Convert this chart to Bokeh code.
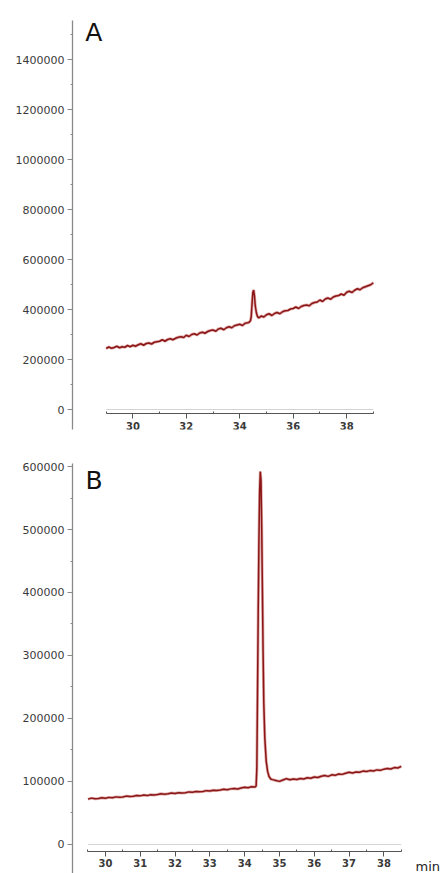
from bokeh.plotting import figure
from bokeh.models import FixedTicker, LinearAxis, Label, Range1d
from bokeh.layouts import column
from bokeh.embed import file_html
from bokeh.resources import INLINE

# ---------------- data ----------------
# Panel A: retention time (min) and intensity
time_a = [29.0, 29.1, 29.2, 29.3, 29.4, 29.5, 29.6, 29.7, 29.8, 29.9,
          30.0, 30.1, 30.2, 30.3, 30.4, 30.5, 30.6, 30.7, 30.8, 30.9,
          31.0, 31.1, 31.2, 31.3, 31.4, 31.5, 31.6, 31.7, 31.8, 31.9,
          32.0, 32.1, 32.2, 32.3, 32.4, 32.5, 32.6, 32.7, 32.8, 32.9,
          33.0, 33.1, 33.2, 33.3, 33.4, 33.5, 33.6, 33.7, 33.8, 33.9,
          34.0, 34.1, 34.2, 34.3, 34.35, 34.40, 34.43, 34.46, 34.49, 34.52,
          34.55, 34.58, 34.62, 34.66, 34.70, 34.75, 34.80, 34.9,
          35.0, 35.1, 35.2, 35.3, 35.4, 35.5, 35.6, 35.7, 35.8, 35.9,
          36.0, 36.1, 36.2, 36.3, 36.4, 36.5, 36.6, 36.7, 36.8, 36.9,
          37.0, 37.1, 37.2, 37.3, 37.4, 37.5, 37.6, 37.7, 37.8, 37.9,
          38.0, 38.1, 38.2, 38.3, 38.4, 38.5, 38.6, 38.7, 38.8, 38.9, 39.0]
intensity_a = [244000, 250000, 245000, 248000, 253000, 247000, 251000, 249000, 256000, 251000,
               257000, 253000, 259000, 263000, 257000, 264000, 266000, 262000, 269000, 271000,
               273000, 279000, 273000, 280000, 283000, 279000, 285000, 289000, 291000, 288000,
               297000, 292000, 300000, 303000, 298000, 306000, 309000, 305000, 312000, 316000,
               318000, 313000, 322000, 325000, 319000, 327000, 331000, 327000, 335000, 338000,
               341000, 336000, 345000, 347000, 349000, 355000, 372000, 425000, 468000, 478000,
               455000, 415000, 388000, 373000, 367000, 369000, 374000, 370000,
               379000, 383000, 376000, 384000, 388000, 383000, 391000, 395000, 396000, 402000,
               404000, 410000, 404000, 412000, 416000, 418000, 415000, 424000, 428000, 430000,
               438000, 432000, 442000, 446000, 441000, 450000, 454000, 456000, 462000, 457000,
               469000, 473000, 468000, 477000, 483000, 479000, 487000, 491000, 495000, 499000, 507000]

# Panel B
time_b = [29.5, 29.6, 29.7, 29.8, 29.9, 30.0, 30.1, 30.2, 30.3, 30.4,
          30.5, 30.6, 30.7, 30.8, 30.9, 31.0, 31.1, 31.2, 31.3, 31.4,
          31.5, 31.6, 31.7, 31.8, 31.9, 32.0, 32.1, 32.2, 32.3, 32.4,
          32.5, 32.6, 32.7, 32.8, 32.9, 33.0, 33.1, 33.2, 33.3, 33.4,
          33.5, 33.6, 33.7, 33.8, 33.9, 34.0, 34.1, 34.2, 34.3, 34.33,
          34.35, 34.37, 34.39, 34.41, 34.43, 34.45, 34.47, 34.49, 34.51, 34.53,
          34.55, 34.58, 34.62, 34.66, 34.70, 34.75, 34.8, 34.9,
          35.0, 35.1, 35.2, 35.3, 35.4, 35.5, 35.6, 35.7, 35.8, 35.9,
          36.0, 36.1, 36.2, 36.3, 36.4, 36.5, 36.6, 36.7, 36.8, 36.9,
          37.0, 37.1, 37.2, 37.3, 37.4, 37.5, 37.6, 37.7, 37.8, 37.9,
          38.0, 38.1, 38.2, 38.3, 38.4, 38.5]
intensity_b = [72000, 73600, 72700, 73100, 74300, 73500, 74800, 74100, 75600, 74900,
               75400, 76800, 76100, 76600, 77900, 77200, 78400, 77600, 79100, 78700,
               79300, 80600, 79800, 80400, 81700, 80900, 82300, 81600, 82200, 83500,
               82800, 84200, 83600, 84100, 85500, 84800, 86200, 85600, 86400, 87700,
               86900, 88300, 88900, 88100, 89600, 90900, 90200, 91800, 91300, 93000,
               120000, 240000, 370000, 480000, 560000, 592000, 578000, 505000, 405000, 305000,
               225000, 168000, 132000, 116000, 108000, 104000, 103000, 101500,
               100200, 102400, 104500, 102800, 103900, 103200, 104800, 104100, 106000, 105200,
               107100, 106400, 108300, 109500, 108100, 110600, 109800, 112000, 111300, 113100,
               114600, 113400, 115200, 114700, 116500, 115800, 117300, 116600, 118400, 117700,
               119600, 120800, 119900, 122100, 121500, 124000]

ticks_a_y = [0, 200000, 400000, 600000, 800000, 1000000, 1200000, 1400000]
minor_a_y = [100000, 300000, 500000, 700000, 900000, 1100000, 1300000, 1500000]
ticks_a_x = [30, 32, 34, 36, 38]
minor_a_x = [29, 31, 33, 35, 37, 39]

ticks_b_y = [0, 100000, 200000, 300000, 400000, 500000, 600000]
minor_b_y = [50000, 150000, 250000, 350000, 450000, 550000]
ticks_b_x = [30, 31, 32, 33, 34, 35, 36, 37, 38]
minor_b_x = [29.5, 30.5, 31.5, 32.5, 33.5, 34.5, 35.5, 36.5, 37.5, 38.5]

LINE_DARK = "#8a1616"
LINE_SOFT = "#c86a6a"
AXIS_Y = "#8a8a8a"
AXIS_X = "#555555"
LABEL_C = "#3a3a3a"
FONT = "DejaVu Sans"


def style_y(ax, ticks, minor):
    ax.ticker = FixedTicker(ticks=ticks, minor_ticks=minor)
    ax.axis_line_color = AXIS_Y
    ax.axis_line_width = 1.3
    ax.major_tick_line_color = AXIS_Y
    ax.minor_tick_line_color = AXIS_Y
    ax.major_tick_out = 5
    ax.major_tick_in = 0
    ax.minor_tick_out = 2
    ax.minor_tick_in = 0
    ax.major_label_standoff = 3
    ax.major_label_text_font = FONT
    ax.major_label_text_font_size = "11px"
    ax.major_label_text_color = LABEL_C
    ax.formatter.use_scientific = False


def style_x(ax, ticks, minor):
    ax.ticker = FixedTicker(ticks=ticks, minor_ticks=minor)
    ax.axis_line_color = AXIS_X
    ax.axis_line_width = 1.2
    ax.major_tick_line_color = AXIS_X
    ax.minor_tick_line_color = AXIS_X
    ax.major_tick_out = 5
    ax.major_tick_in = 0
    ax.minor_tick_out = 0
    ax.minor_tick_in = 2
    ax.major_label_standoff = 3
    ax.major_label_text_font = FONT
    ax.major_label_text_font_size = "10px"
    ax.major_label_text_font_style = "bold"
    ax.major_label_text_color = LABEL_C


# ---------------- panel A ----------------
pA = figure(width=445, height=448, output_backend="svg", toolbar_location=None,
            x_range=Range1d(27.74, 41.7), y_range=Range1d(-80000, 1556000),
            min_border_left=68, min_border_right=0, min_border_top=20, min_border_bottom=19,
            x_axis_location=None, y_axis_location=None)
pA.grid.visible = False
pA.outline_line_color = None

yA = LinearAxis()
style_y(yA, ticks_a_y, minor_a_y)
pA.add_layout(yA, "left")
xA = LinearAxis(fixed_location=-16000, bounds=(min(time_a), max(time_a)))
style_x(xA, ticks_a_x, minor_a_x)
pA.add_layout(xA, "below")

pA.line([min(time_a), max(time_a)], [0, 0], line_color="#d4d4d4", line_width=1.2)
pA.line(time_a, intensity_a, line_color=LINE_SOFT, line_width=3.0, line_alpha=0.55)
pA.line(time_a, intensity_a, line_color=LINE_DARK, line_width=1.5)

pA.add_layout(Label(x=28.22, y=1566000, text="A", text_font=FONT, text_font_size="25px",
                    text_baseline="top", text_color="#111111"))

# ---------------- panel B ----------------
pB = figure(width=445, height=425, output_backend="svg", toolbar_location=None,
            x_range=Range1d(29.055, 39.77), y_range=Range1d(-46032, 604762),
            min_border_left=72, min_border_right=0, min_border_top=15, min_border_bottom=0,
            x_axis_location=None, y_axis_location=None)
pB.grid.visible = False
pB.outline_line_color = None

yB = LinearAxis()
style_y(yB, ticks_b_y, minor_b_y)
pB.add_layout(yB, "left")
xB = LinearAxis(fixed_location=-11111, bounds=(min(time_b), max(time_b)))
style_x(xB, ticks_b_x, minor_b_x)
pB.add_layout(xB, "below")

pB.line([min(time_b), max(time_b)], [0, 0], line_color="#d4d4d4", line_width=1.2)
pB.line(time_b, intensity_b, line_color=LINE_SOFT, line_width=3.0, line_alpha=0.55)
pB.line(time_b, intensity_b, line_color=LINE_DARK, line_width=1.5)

pB.add_layout(Label(x=29.43, y=601000, text="B", text_font=FONT, text_font_size="25px",
                    text_baseline="top", text_color="#111111"))
pB.add_layout(Label(x=38.91, y=-34920, text="min", text_font=FONT, text_font_size="13px",
                    text_baseline="middle", text_color="#222222"))

layout = column(pA, pB, spacing=0)
open("out.html", "w").write(file_html(layout, INLINE))
